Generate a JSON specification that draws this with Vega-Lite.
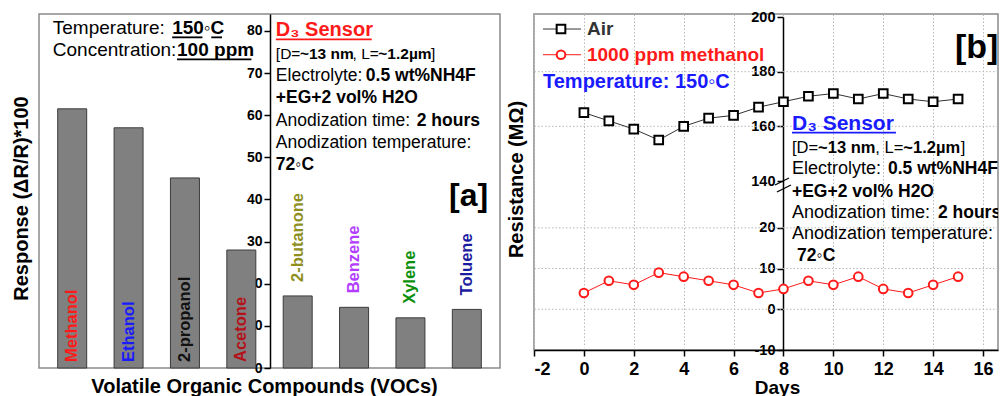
{
  "$schema": "https://vega.github.io/schema/vega-lite/v6.json",
  "padding": {"left": 10, "top": 8, "right": 0, "bottom": 0},
  "bounds": "flush",
  "spacing": 34,
  "resolve": {"scale": {"color": "independent"}},
  "config": {
    "font": "Liberation Sans",
    "view": {"stroke": "#8a8a8a", "strokeWidth": 1.5},
    "axis": {"labelFont": "Liberation Sans", "titleFont": "Liberation Sans", "labelColor": "black", "titleColor": "black", "domainColor": "black", "tickColor": "black", "domainWidth": 1.5, "tickWidth": 1.5}
  },
  "datasets": {
    "voc": [
      {"name": "Methanol", "pos": 1, "response": 61.5},
      {"name": "Ethanol", "pos": 2, "response": 57.0},
      {"name": "2-propanol", "pos": 3, "response": 45.1},
      {"name": "Acetone", "pos": 4, "response": 28.0},
      {"name": "2-butanone", "pos": 5, "response": 17.1},
      {"name": "Benzene", "pos": 6, "response": 14.4},
      {"name": "Xylene", "pos": 7, "response": 11.9},
      {"name": "Toluene", "pos": 8, "response": 13.9}
    ],
    "aReg19": [
      {"t": "Temperature:", "x": 0.656, "y": 79.3},
      {"t": "Concentration:", "x": 0.656, "y": 74.1}
    ],
    "aBold19": [
      {"t": "150◦C", "x": 2.773, "y": 79.3},
      {"t": "100 ppm", "x": 2.86, "y": 74.1}
    ],
    "aUnder": [
      {"x0": 2.773, "x1": 3.311, "y": 78.46},
      {"x0": 3.467, "x1": 3.658, "y": 78.46},
      {"x0": 2.86, "x1": 4.179, "y": 73.23}
    ],
    "aRedUnder": [
      {"x0": 4.613, "x1": 6.313, "y": 77.98}
    ],
    "aRed": [
      {"t": "D₃ Sensor", "x": 4.613, "y": 78.8}
    ],
    "aReg15": [
      {"t": "[D=", "x": 4.613, "y": 73.4},
      {"t": ", L=", "x": 5.973, "y": 73.4},
      {"t": "]", "x": 7.363, "y": 73.4}
    ],
    "aBold15": [
      {"t": "~13 nm", "x": 5.04, "y": 73.4},
      {"t": "~1.2µm", "x": 6.43, "y": 73.4}
    ],
    "aReg17": [
      {"t": "Electrolyte:", "x": 4.613, "y": 68.1},
      {"t": "Anodization time:", "x": 4.613, "y": 57.4},
      {"t": "Anodization temperature:", "x": 4.613, "y": 52.2}
    ],
    "aBold17": [
      {"t": "0.5 wt%NH4F", "x": 6.209, "y": 68.1},
      {"t": "+EG+2 vol% H2O", "x": 4.613, "y": 62.9},
      {"t": "2 hours", "x": 7.112, "y": 57.4},
      {"t": "72◦C", "x": 4.613, "y": 47.0}
    ],
    "aBig": [
      {"t": "[a]", "x": 7.684, "y": 38.5}
    ],
    "res": [
      {"day": 0, "value": 165, "series": "Air"},
      {"day": 1, "value": 162, "series": "Air"},
      {"day": 2, "value": 159, "series": "Air"},
      {"day": 3, "value": 155, "series": "Air"},
      {"day": 4, "value": 160, "series": "Air"},
      {"day": 5, "value": 163, "series": "Air"},
      {"day": 6, "value": 164, "series": "Air"},
      {"day": 7, "value": 167, "series": "Air"},
      {"day": 8, "value": 169, "series": "Air"},
      {"day": 9, "value": 171, "series": "Air"},
      {"day": 10, "value": 172, "series": "Air"},
      {"day": 11, "value": 170, "series": "Air"},
      {"day": 12, "value": 172, "series": "Air"},
      {"day": 13, "value": 170, "series": "Air"},
      {"day": 14, "value": 169, "series": "Air"},
      {"day": 15, "value": 170, "series": "Air"},
      {"day": 0, "value": 4, "series": "1000 ppm methanol"},
      {"day": 1, "value": 7, "series": "1000 ppm methanol"},
      {"day": 2, "value": 6, "series": "1000 ppm methanol"},
      {"day": 3, "value": 9, "series": "1000 ppm methanol"},
      {"day": 4, "value": 8, "series": "1000 ppm methanol"},
      {"day": 5, "value": 7, "series": "1000 ppm methanol"},
      {"day": 6, "value": 6, "series": "1000 ppm methanol"},
      {"day": 7, "value": 4, "series": "1000 ppm methanol"},
      {"day": 8, "value": 5, "series": "1000 ppm methanol"},
      {"day": 9, "value": 7, "series": "1000 ppm methanol"},
      {"day": 10, "value": 6, "series": "1000 ppm methanol"},
      {"day": 11, "value": 8, "series": "1000 ppm methanol"},
      {"day": 12, "value": 5, "series": "1000 ppm methanol"},
      {"day": 13, "value": 4, "series": "1000 ppm methanol"},
      {"day": 14, "value": 6, "series": "1000 ppm methanol"},
      {"day": 15, "value": 8, "series": "1000 ppm methanol"}
    ],
    "gridB": [{"v": 0}, {"v": 10}, {"v": 20}, {"v": 160}, {"v": 180}],
    "breakB": [
      {"x0": 7.659, "x1": 8.22, "y0": 30.52, "y1": 141.1},
      {"x0": 7.739, "x1": 8.301, "y0": 28.8, "y1": 30.52}
    ],
    "legB": [
      {"series": "Air", "x0": -1.639, "x1": -0.116, "xm": -0.918, "tx": 0.124, "y": 195.6},
      {"series": "1000 ppm methanol", "x0": -1.639, "x1": -0.116, "xm": -0.918, "tx": 0.124, "y": 186.2}
    ],
    "bTemp": [{"t": "Temperature: 150◦C", "x": -1.639, "y": 174.0}],
    "bBlue": [{"t": "D₃ Sensor", "x": 8.341, "y": 158.66}],
    "bBlueUnder": [{"x0": 8.341, "x1": 12.509, "y": 157.67}],
    "bReg16": [
      {"t": "[D=", "x": 8.341, "y": 150.24},
      {"t": ", L=", "x": 11.683, "y": 150.24},
      {"t": "]", "x": 15.102, "y": 150.24}
    ],
    "bBold16": [
      {"t": "~13 nm", "x": 9.387, "y": 150.24},
      {"t": "~1.2µm", "x": 12.806, "y": 150.24}
    ],
    "bReg": [
      {"t": "Electrolyte:", "x": 8.341, "y": 142.56},
      {"t": "Anodization time:", "x": 8.341, "y": 22.41},
      {"t": "Anodization temperature:", "x": 8.341, "y": 17.26}
    ],
    "bBold": [
      {"t": "0.5 wt%NH4F", "x": 12.188, "y": 142.56},
      {"t": "+EG+2 vol% H2O", "x": 8.341, "y": 27.57},
      {"t": "2 hours", "x": 14.192, "y": 22.41},
      {"t": "72◦C", "x": 8.541, "y": 11.86}
    ],
    "bBig": [{"t": "[b]", "x": 14.874, "y": 185.0}]
  },
  "hconcat": [
    {
      "width": 461,
      "height": 354,
      "layer": [
        {
          "data": {"name": "voc"},
          "mark": {"type": "bar", "width": 29, "color": "#808080", "stroke": "#3c3c3c", "strokeWidth": 1},
          "encoding": {
            "x": {"field": "pos", "type": "quantitative", "scale": {"domain": [0.5, 8.5], "nice": false, "zero": false},
                  "axis": {"labels": false, "ticks": false, "domain": false, "grid": false, "title": "Volatile Organic Compounds (VOCs)", "titleFontSize": 20, "titleFontWeight": "bold", "titleX": 225, "titleY": 24, "titleBaseline": "alphabetic", "titleAlign": "center"}},
            "y": {"field": "response", "type": "quantitative", "scale": {"domain": [0, 84], "nice": false},
                  "axis": {"offset": -231, "values": [0, 5, 10, 15, 20, 25, 30, 35, 40, 45, 50, 55, 60, 65, 70, 75, 80], "labelExpr": "datum.value % 10 === 0 ? datum.label : ''", "tickSize": {"condition": {"test": "datum.value % 10 === 0", "value": 6}, "value": 3}, "grid": false, "labelFontSize": 14, "labelFontWeight": "bold", "labelPadding": 2, "title": "Response (ΔR/R)*100", "titleFontSize": 20, "titleFontWeight": "bold", "titleX": -249, "titleY": 184, "titleAngle": 270, "titleAlign": "center", "titleBaseline": "middle"}}
          }
        },
        {
          "data": {"name": "voc"},
          "transform": [{"filter": "datum.response > 25"}],
          "mark": {"type": "text", "angle": 270, "align": "left", "baseline": "middle", "dx": 6, "fontSize": 16.5, "fontWeight": "bold"},
          "encoding": {
            "x": {"field": "pos", "type": "quantitative"},
            "y": {"datum": 0},
            "text": {"field": "name"},
            "color": {"field": "name", "type": "nominal", "legend": null,
                      "scale": {"domain": ["Methanol", "Ethanol", "2-propanol", "Acetone", "2-butanone", "Benzene", "Xylene", "Toluene"],
                                "range": ["#ff1a1a", "#1a1aff", "#111111", "#b3121a", "#8f8f1f", "#b23cff", "#0a8f0a", "#1c1ca0"]}}
          }
        },
        {
          "data": {"name": "voc"},
          "transform": [{"filter": "datum.response <= 25"}],
          "mark": {"type": "text", "angle": 270, "align": "left", "baseline": "middle", "dx": 14, "fontSize": 16.5, "fontWeight": "bold"},
          "encoding": {
            "x": {"field": "pos", "type": "quantitative"},
            "y": {"field": "response", "type": "quantitative"},
            "text": {"field": "name"},
            "color": {"field": "name", "type": "nominal", "legend": null,
                      "scale": {"domain": ["Methanol", "Ethanol", "2-propanol", "Acetone", "2-butanone", "Benzene", "Xylene", "Toluene"],
                                "range": ["#ff1a1a", "#1a1aff", "#111111", "#b3121a", "#8f8f1f", "#b23cff", "#0a8f0a", "#1c1ca0"]}}
          }
        },
        {
          "data": {"name": "aReg19"},
          "mark": {"type": "text", "align": "left", "baseline": "alphabetic", "fontSize": 19, "color": "black"},
          "encoding": {"x": {"field": "x", "type": "quantitative"}, "y": {"field": "y", "type": "quantitative"}, "text": {"field": "t"}}
        },
        {
          "data": {"name": "aBold19"},
          "mark": {"type": "text", "align": "left", "baseline": "alphabetic", "fontSize": 19, "fontWeight": "bold", "color": "black"},
          "encoding": {"x": {"field": "x", "type": "quantitative"}, "y": {"field": "y", "type": "quantitative"}, "text": {"field": "t"}}
        },
        {
          "data": {"name": "aUnder"},
          "mark": {"type": "rule", "color": "black", "strokeWidth": 1.8},
          "encoding": {"x": {"field": "x0", "type": "quantitative"}, "x2": {"field": "x1"}, "y": {"field": "y", "type": "quantitative"}}
        },
        {
          "data": {"name": "aRedUnder"},
          "mark": {"type": "rule", "color": "#ff1a1a", "strokeWidth": 1.8},
          "encoding": {"x": {"field": "x0", "type": "quantitative"}, "x2": {"field": "x1"}, "y": {"field": "y", "type": "quantitative"}}
        },
        {
          "data": {"name": "aRed"},
          "mark": {"type": "text", "align": "left", "baseline": "alphabetic", "fontSize": 20, "fontWeight": "bold", "color": "#ff1a1a"},
          "encoding": {"x": {"field": "x", "type": "quantitative"}, "y": {"field": "y", "type": "quantitative"}, "text": {"field": "t"}}
        },
        {
          "data": {"name": "aReg15"},
          "mark": {"type": "text", "align": "left", "baseline": "alphabetic", "fontSize": 15.5, "color": "black"},
          "encoding": {"x": {"field": "x", "type": "quantitative"}, "y": {"field": "y", "type": "quantitative"}, "text": {"field": "t"}}
        },
        {
          "data": {"name": "aBold15"},
          "mark": {"type": "text", "align": "left", "baseline": "alphabetic", "fontSize": 15.5, "fontWeight": "bold", "color": "black"},
          "encoding": {"x": {"field": "x", "type": "quantitative"}, "y": {"field": "y", "type": "quantitative"}, "text": {"field": "t"}}
        },
        {
          "data": {"name": "aReg17"},
          "mark": {"type": "text", "align": "left", "baseline": "alphabetic", "fontSize": 17.5, "color": "black"},
          "encoding": {"x": {"field": "x", "type": "quantitative"}, "y": {"field": "y", "type": "quantitative"}, "text": {"field": "t"}}
        },
        {
          "data": {"name": "aBold17"},
          "mark": {"type": "text", "align": "left", "baseline": "alphabetic", "fontSize": 17.5, "fontWeight": "bold", "color": "black"},
          "encoding": {"x": {"field": "x", "type": "quantitative"}, "y": {"field": "y", "type": "quantitative"}, "text": {"field": "t"}}
        },
        {
          "data": {"name": "aBig"},
          "mark": {"type": "text", "align": "left", "baseline": "alphabetic", "fontSize": 32, "fontWeight": "bold", "color": "black"},
          "encoding": {"x": {"field": "x", "type": "quantitative"}, "y": {"field": "y", "type": "quantitative"}, "text": {"field": "t"}}
        }
      ]
    },
    {
      "width": 464,
      "height": 336,
      "layer": [
        {
          "data": {"name": "gridB"},
          "mark": {"type": "rule", "color": "#b8b8b8", "strokeWidth": 1, "strokeDash": [1.5, 2]},
          "encoding": {"y": {"field": "v", "type": "quantitative"}}
        },
        {
          "data": {"name": "res"},
          "mark": {"type": "line", "strokeWidth": 1},
          "encoding": {
            "x": {"field": "day", "type": "quantitative", "scale": {"domain": [-2, 16.6], "nice": false, "zero": false},
                  "axis": {"values": [-2, -1, 0, 1, 2, 3, 4, 5, 6, 7, 8, 9, 10, 11, 12, 13, 14, 15, 16], "labelExpr": "datum.value % 2 === 0 ? (datum.value < 0 ? '-' + (-datum.value) : '' + datum.value) : ''", "tickSize": {"condition": {"test": "datum.value % 2 === 0", "value": 6}, "value": 3}, "grid": true, "gridDash": [1.5, 2], "gridColor": "#b8b8b8", "gridWidth": 1, "gridOpacity": {"condition": {"test": "datum.value % 2 === 0", "value": 1}, "value": 0}, "labelFontSize": 18, "labelFontWeight": "bold", "labelPadding": 4, "title": "Days", "titleFontSize": 19, "titleFontWeight": "bold", "titleX": 243, "titleY": 43, "titleBaseline": "alphabetic", "titleAlign": "center"}},
            "y": {"field": "value", "type": "quantitative", "scale": {"domain": [-10, 31.5, 140, 200], "range": [336, 167, 167, 3], "nice": false, "zero": false},
                  "axis": {"offset": -249, "values": [-10, -5, 0, 5, 10, 15, 20, 25, 140, 150, 160, 170, 180, 190, 200], "labelExpr": "indexof([-10, 0, 10, 20, 140, 160, 180, 200], datum.value) >= 0 ? (datum.value < 0 ? '-' + (-datum.value) : '' + datum.value) : ''", "tickSize": {"condition": {"test": "indexof([-10, 0, 10, 20, 140, 160, 180, 200], datum.value) >= 0", "value": 6}, "value": 3}, "grid": false, "labelFontSize": 14.5, "labelFontWeight": "bold", "labelPadding": 2, "title": "Resistance (MΩ)", "titleFontSize": 20, "titleFontWeight": "bold", "titleX": -267, "titleY": 165, "titleAngle": 270, "titleAlign": "center", "titleBaseline": "middle"}},
            "color": {"field": "series", "type": "nominal", "legend": null, "scale": {"domain": ["Air", "1000 ppm methanol"], "range": ["#333333", "#ff1a1a"]}}
          }
        },
        {
          "data": {"name": "res"},
          "mark": {"type": "point", "filled": false, "fill": "white", "fillOpacity": 1, "strokeWidth": 2, "size": 75},
          "encoding": {
            "x": {"field": "day", "type": "quantitative"},
            "y": {"field": "value", "type": "quantitative"},
            "stroke": {"field": "series", "type": "nominal", "legend": null, "scale": {"domain": ["Air", "1000 ppm methanol"], "range": ["#000000", "#ff1a1a"]}},
            "shape": {"field": "series", "type": "nominal", "legend": null, "scale": {"domain": ["Air", "1000 ppm methanol"], "range": ["square", "circle"]}}
          }
        },
        {
          "data": {"name": "breakB"},
          "mark": {"type": "rule", "color": "black", "strokeWidth": 1.3},
          "encoding": {"x": {"field": "x0", "type": "quantitative"}, "x2": {"field": "x1"}, "y": {"field": "y0", "type": "quantitative"}, "y2": {"field": "y1"}}
        },
        {
          "data": {"name": "legB"},
          "mark": {"type": "rule", "strokeWidth": 1},
          "encoding": {
            "x": {"field": "x0", "type": "quantitative"}, "x2": {"field": "x1"},
            "y": {"field": "y", "type": "quantitative"},
            "color": {"field": "series", "type": "nominal", "legend": null, "scale": {"domain": ["Air", "1000 ppm methanol"], "range": ["#333333", "#ff1a1a"]}}
          }
        },
        {
          "data": {"name": "legB"},
          "mark": {"type": "point", "filled": false, "fill": "white", "fillOpacity": 1, "strokeWidth": 2, "size": 75},
          "encoding": {
            "x": {"field": "xm", "type": "quantitative"},
            "y": {"field": "y", "type": "quantitative"},
            "stroke": {"field": "series", "type": "nominal", "legend": null, "scale": {"domain": ["Air", "1000 ppm methanol"], "range": ["#000000", "#ff1a1a"]}},
            "shape": {"field": "series", "type": "nominal", "legend": null, "scale": {"domain": ["Air", "1000 ppm methanol"], "range": ["square", "circle"]}}
          }
        },
        {
          "data": {"name": "legB"},
          "mark": {"type": "text", "align": "left", "baseline": "middle", "fontSize": 19, "fontWeight": "bold"},
          "encoding": {
            "x": {"field": "tx", "type": "quantitative"},
            "y": {"field": "y", "type": "quantitative"},
            "text": {"field": "series"},
            "color": {"field": "series", "type": "nominal", "legend": null, "scale": {"domain": ["Air", "1000 ppm methanol"], "range": ["#000000", "#ff1a1a"]}}
          }
        },
        {
          "data": {"name": "bTemp"},
          "mark": {"type": "text", "align": "left", "baseline": "alphabetic", "fontSize": 20, "fontWeight": "bold", "color": "#1a1aff"},
          "encoding": {"x": {"field": "x", "type": "quantitative"}, "y": {"field": "y", "type": "quantitative"}, "text": {"field": "t"}}
        },
        {
          "data": {"name": "bBlue"},
          "mark": {"type": "text", "align": "left", "baseline": "alphabetic", "fontSize": 21, "fontWeight": "bold", "color": "#1a1aff", "clip": true},
          "encoding": {"x": {"field": "x", "type": "quantitative"}, "y": {"field": "y", "type": "quantitative"}, "text": {"field": "t"}}
        },
        {
          "data": {"name": "bBlueUnder"},
          "mark": {"type": "rule", "color": "#1a1aff", "strokeWidth": 1.8},
          "encoding": {"x": {"field": "x0", "type": "quantitative"}, "x2": {"field": "x1"}, "y": {"field": "y", "type": "quantitative"}}
        },
        {
          "data": {"name": "bReg16"},
          "mark": {"type": "text", "align": "left", "baseline": "alphabetic", "fontSize": 16.5, "color": "black", "clip": true},
          "encoding": {"x": {"field": "x", "type": "quantitative"}, "y": {"field": "y", "type": "quantitative"}, "text": {"field": "t"}}
        },
        {
          "data": {"name": "bBold16"},
          "mark": {"type": "text", "align": "left", "baseline": "alphabetic", "fontSize": 16.5, "fontWeight": "bold", "color": "black", "clip": true},
          "encoding": {"x": {"field": "x", "type": "quantitative"}, "y": {"field": "y", "type": "quantitative"}, "text": {"field": "t"}}
        },
        {
          "data": {"name": "bReg"},
          "mark": {"type": "text", "align": "left", "baseline": "alphabetic", "fontSize": 18, "color": "black", "clip": true},
          "encoding": {"x": {"field": "x", "type": "quantitative"}, "y": {"field": "y", "type": "quantitative"}, "text": {"field": "t"}}
        },
        {
          "data": {"name": "bBold"},
          "mark": {"type": "text", "align": "left", "baseline": "alphabetic", "fontSize": 17.5, "fontWeight": "bold", "color": "black", "clip": true},
          "encoding": {"x": {"field": "x", "type": "quantitative"}, "y": {"field": "y", "type": "quantitative"}, "text": {"field": "t"}}
        },
        {
          "data": {"name": "bBig"},
          "mark": {"type": "text", "align": "left", "baseline": "alphabetic", "fontSize": 34, "fontWeight": "bold", "color": "black", "clip": true},
          "encoding": {"x": {"field": "x", "type": "quantitative"}, "y": {"field": "y", "type": "quantitative"}, "text": {"field": "t"}}
        }
      ]
    }
  ]
}
